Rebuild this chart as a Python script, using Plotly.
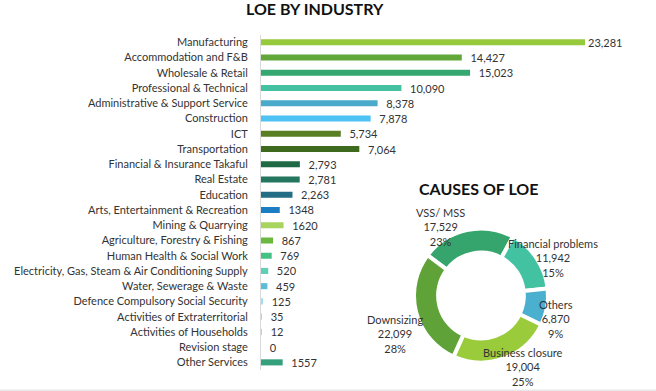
import plotly.graph_objects as go

W, H = 656, 391

industries = [
    "Manufacturing", "Accommodation and F&B", "Wholesale & Retail",
    "Professional & Technical", "Administrative & Support Service",
    "Construction", "ICT", "Transportation", "Financial & Insurance Takaful",
    "Real Estate", "Education", "Arts, Entertainment & Recreation",
    "Mining & Quarrying", "Agriculture, Forestry & Fishing",
    "Human Health & Social Work",
    "Electricity, Gas, Steam & Air Conditioning Supply",
    "Water, Sewerage & Waste", "Defence Compulsory Social Security",
    "Activities of Extraterritorial", "Activities of Households",
    "Revision stage", "Other Services",
]
industry_values = [23281, 14427, 15023, 10090, 8378, 7878, 5734, 7064, 2793,
                   2781, 2263, 1348, 1620, 867, 769, 520, 459, 125, 35, 12, 0,
                   1557]
industry_value_labels = ["23,281", "14,427", "15,023", "10,090", "8,378",
                         "7,878", "5,734", "7,064", "2,793", "2,781", "2,263",
                         "1348", "1620", "867", "769", "520", "459", "125",
                         "35", "12", "0", "1557"]
industry_colors = ["#97C93C", "#61A73A", "#35A770", "#44C1A0", "#4BAACB",
                   "#4EC2F4", "#5A7F22", "#3D6A1D", "#1F6A45", "#24775E",
                   "#246E85", "#1C7DC3", "#A8D45E", "#6BB83E", "#46C185",
                   "#62CEB5", "#5DBCD8", "#A0DEF4", "#9EDFF5", "#9EDFF5",
                   "#9EDFF5", "#35A07C"]

causes = ["VSS/ MSS", "Financial problems", "Others", "Business closure",
          "Downsizing"]
cause_values = [17529, 11942, 6870, 19004, 22099]
cause_value_labels = ["17,529", "11,942", "6,870", "19,004", "22,099"]
cause_pct_labels = ["23%", "15%", "9%", "25%", "28%"]
cause_colors = ["#36A56D", "#43C2A1", "#4BAFD0", "#9ACB3A", "#5FA338"]

# label centres (pixels) for the donut labels
cause_label_px = [(440, 227), (553, 258), (556, 319), (523, 367), (395, 334)]

FONT = "Lato"
TXT = "#333333"

fig = go.Figure()

# small gap before value labels, except the longest bar (label hugs the bar)
label_templates = ["%{text}"] + ["\u00a0\u00a0%{text}"] * (len(industries) - 1)

fig.add_trace(go.Bar(
    y=industries, x=industry_values, orientation="h",
    marker=dict(color=industry_colors, line=dict(width=0)),
    text=industry_value_labels, texttemplate=label_templates,
    textposition="outside", constraintext="none",
    textfont=dict(family=FONT, size=11, color=TXT),
    cliponaxis=False, xaxis="x", yaxis="y", showlegend=False,
    hoverinfo="skip",
))

# pie geometry
cx, cy, r = 481, 295.5, 67
fig.add_trace(go.Pie(
    labels=causes, values=cause_values, sort=False, direction="clockwise",
    rotation=-53, hole=0.64, textinfo="none", showlegend=False,
    marker=dict(colors=cause_colors, line=dict(color="white", width=4)),
    domain=dict(x=[(cx - r) / W, (cx + r) / W],
                y=[(H - cy - r) / H, (H - cy + r) / H]),
))

x0, x1 = 261, 640
xmax = 23281 * (x1 - x0) / (585 - x0)
fig.update_layout(
    width=W, height=H,
    margin=dict(l=0, r=0, t=0, b=0),
    paper_bgcolor="white", plot_bgcolor="white",
    font=dict(family=FONT, color=TXT),
    bargap=0.6,
    xaxis=dict(domain=[x0 / W, x1 / W], range=[0, xmax], visible=False,
               fixedrange=True),
    yaxis=dict(domain=[(H - 370) / H, (H - 34.7) / H], autorange="reversed",
               showline=True, linecolor="#D9D9D9", linewidth=1,
               ticks="outside", ticklen=10, tickcolor="rgba(0,0,0,0)",
               tickfont=dict(family=FONT, size=11, color=TXT),
               showgrid=False, zeroline=False),
    shapes=[dict(type="line", xref="paper", yref="paper", x0=0, x1=1,
                 y0=0.8 / H, y1=0.8 / H,
                 line=dict(color="#E8E8E8", width=1.5))],
)

annotations = [
    dict(text="<b>LOE BY INDUSTRY</b>", x=314.5 / W, y=1 - 9 / H,
         xref="paper", yref="paper", showarrow=False,
         font=dict(family=FONT, size=16, color="#111111"),
         xanchor="center", yanchor="middle"),
    dict(text="<b>CAUSES OF LOE</b>", x=478.5 / W, y=1 - 188 / H,
         xref="paper", yref="paper", showarrow=False,
         font=dict(family=FONT, size=16, color="#111111"),
         xanchor="center", yanchor="middle"),
]
for name, val, pct, (px, py) in zip(causes, cause_value_labels,
                                    cause_pct_labels, cause_label_px):
    annotations.append(dict(
        text=f"{name}<br>{val}<br>{pct}", x=px / W, y=1 - py / H,
        xref="paper", yref="paper", showarrow=False, align="center",
        font=dict(family=FONT, size=11, color=TXT),
        xanchor="center", yanchor="middle"))
fig.update_layout(annotations=annotations)

fig.write_html(
    "out.html",
    config={"displayModeBar": False},
    post_script="document.body.style.margin='0';"
                "document.body.style.padding='0';"
                "document.body.style.overflow='hidden';",
)
